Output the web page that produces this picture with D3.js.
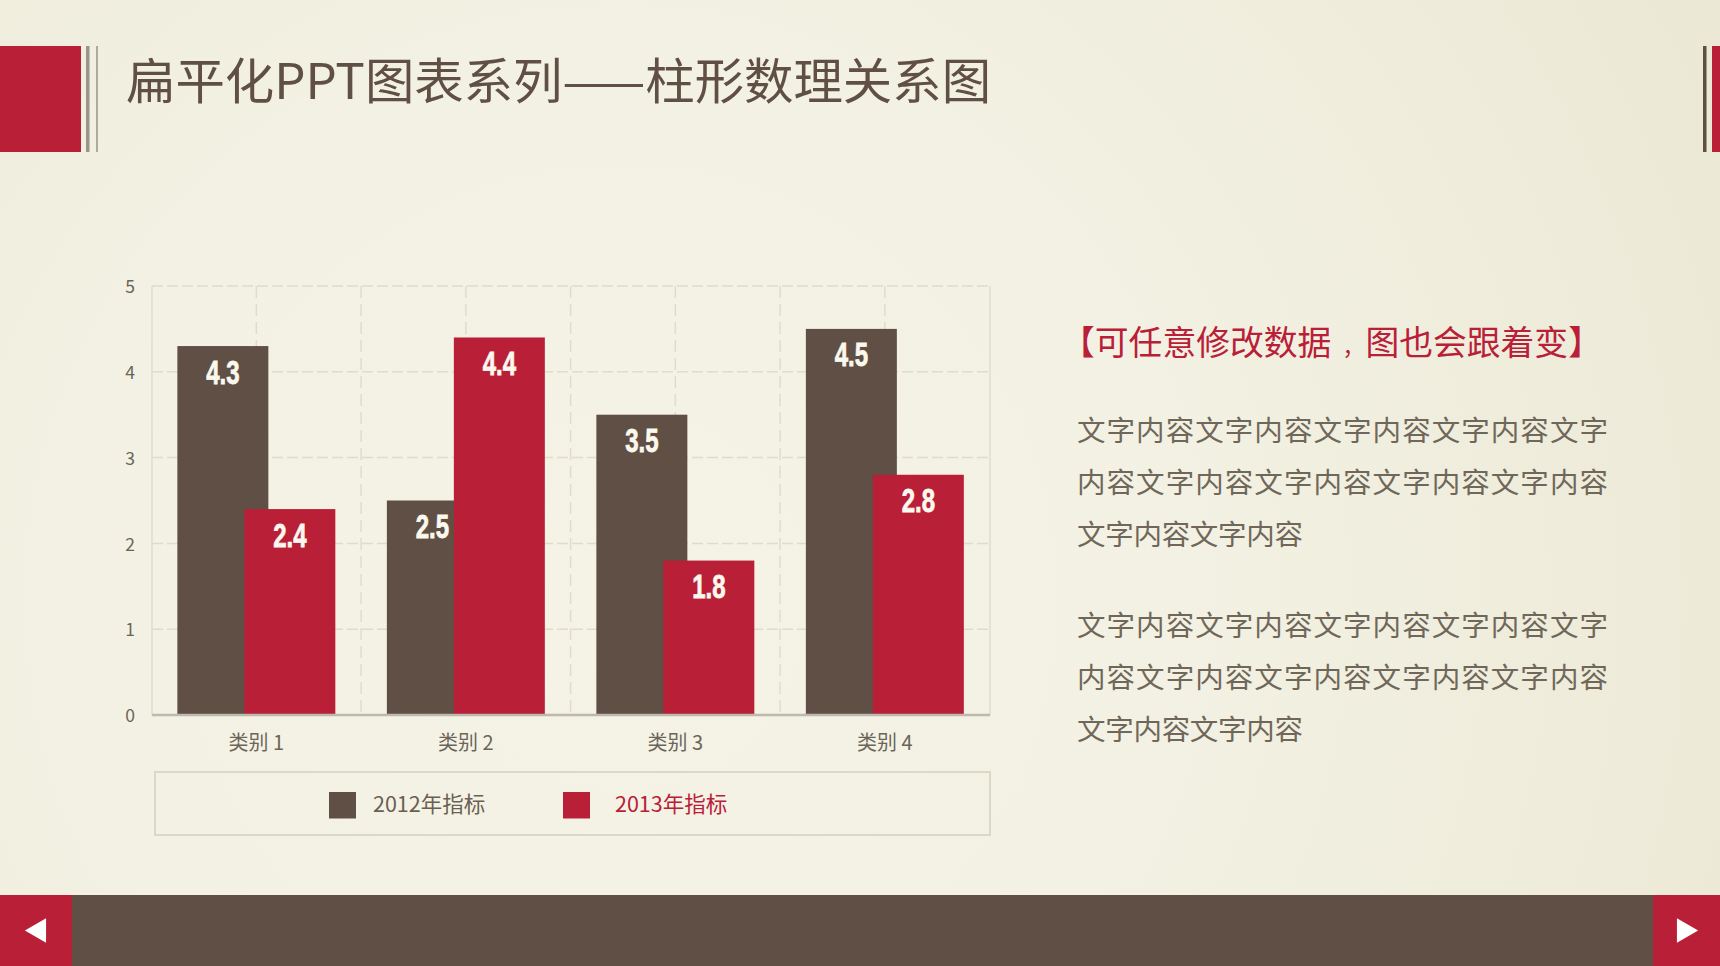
<!DOCTYPE html>
<html><head><meta charset="utf-8">
<script src="https://cdn.jsdelivr.net/npm/d3@7"></script>
<style>
html,body{margin:0;padding:0;background:#f1efe0;overflow:hidden}
svg{display:block}
text{font-family:"Noto Sans CJK SC","Noto Sans",sans-serif}
</style></head><body><svg id="c" width="1720" height="966"></svg>
<script>
const categories = ["类别 1","类别 2","类别 3","类别 4"];
const seriesNames = ["2012年指标","2013年指标"];
const values2012 = [4.3,2.5,3.5,4.5];
const values2013 = [2.4,4.4,1.8,2.8];
const yTicks = [0,1,2,3,4,5];
const titleText = "扁平化PPT图表系列——柱形数理关系图";
const subtitleA = "【可任意修改数据";
const subtitleComma = "，";
const subtitleB = "图也会跟着变】";
const bodyLines = ["文字内容文字内容文字内容文字内容文字","内容文字内容文字内容文字内容文字内容","文字内容文字内容"];
const BROWN="#604f44", RED="#b92038", GRID="#dfdccc";

const svg=d3.select("#c");
const defs=svg.append("defs");
const bg=defs.append("radialGradient").attr("id","bg").attr("gradientUnits","userSpaceOnUse")
  .attr("cx",620).attr("cy",600).attr("r",1250);
bg.append("stop").attr("offset",0).attr("stop-color","#f5f3e6");
bg.append("stop").attr("offset",0.45).attr("stop-color","#f3f1e3");
bg.append("stop").attr("offset",1).attr("stop-color","#ebe8d5");
svg.append("rect").attr("width",1720).attr("height",966).attr("fill","url(#bg)");

const rect=(x,y,w,h,f)=>svg.append("rect").attr("x",x).attr("y",y).attr("width",w).attr("height",h).attr("fill",f);
rect(0,46,81,106,RED);
rect(86,46,3.5,106,"#9a958a");
rect(96,46,2,106,"#aeaa9c");
rect(1703,46,3.5,106,BROWN);
rect(1712,46,8,106,RED);
svg.append("text").attr("x",126).attr("y",98.5).attr("font-size",49.4).attr("fill",BROWN).text(titleText);

const x=d3.scaleBand().domain(categories).range([151.6,989.6]).paddingInner(0.246).paddingOuter(0.123);
const y=d3.scaleLinear().domain([0,5]).range([715,286]);
const barW=x.bandwidth()*0.576;
const grid=svg.append("g").attr("fill","none").attr("stroke",GRID).attr("stroke-width",1.5);
grid.selectAll("line.h").data(yTicks.slice(1)).join("line").attr("class","h")
  .attr("x1",152).attr("x2",990).attr("y1",d=>y(d)).attr("y2",d=>y(d)).attr("stroke-dasharray","11 4");
const vs=[];categories.forEach(c=>{vs.push(x(c)+x.bandwidth()/2);vs.push(x(c)+x.bandwidth()/2+x.step()/2);});
grid.selectAll("line.v").data(vs.slice(0,-1)).join("line").attr("class","v")
  .attr("x1",d=>d).attr("x2",d=>d).attr("y1",y(5)).attr("y2",y(0)).attr("stroke-dasharray","12 6");
grid.append("line").attr("x1",152).attr("x2",152).attr("y1",y(5)).attr("y2",y(0));
grid.append("line").attr("x1",990).attr("x2",990).attr("y1",y(5)).attr("y2",y(0));

const yAxis=d3.axisLeft(y).tickValues(yTicks).tickFormat(d3.format("d")).tickSize(0).tickPadding(17);
const gy=svg.append("g").attr("transform","translate(152,1)").call(yAxis);
gy.select(".domain").remove();
gy.selectAll("text").attr("font-size",17.5).attr("fill","#6b6559");

const series=[{v:values2012,c:BROWN,off:0},{v:values2013,c:RED,off:x.bandwidth()-barW}];
series.forEach(s=>{
  svg.append("g").selectAll("rect").data(categories).join("rect")
    .attr("x",d=>x(d)+s.off).attr("width",barW)
    .attr("y",(d,i)=>y(s.v[i])).attr("height",(d,i)=>y(0)-y(s.v[i])).attr("fill",s.c);
});
series.forEach(s=>{
  svg.append("g").selectAll("text").data(categories).join("text")
    .attr("transform",(d,i)=>`translate(${x(d)+s.off+barW/2},${y(s.v[i])+37.5}) scale(0.8,1.1)`)
    .attr("text-anchor","middle").attr("fill","#fbf8ee").attr("stroke","#fbf8ee").attr("stroke-width",0.7)
    .attr("font-size",30).attr("font-weight",700)
    .style("font-family",'"Liberation Sans",sans-serif')
    .text((d,i)=>s.v[i].toFixed(1));
});
const xAxis=d3.axisBottom(x).tickSize(0).tickPadding(21.5);
const gx=svg.append("g").attr("transform","translate(0,714.5)").call(xAxis);
gx.select(".domain").attr("stroke","#bdb9ae").attr("stroke-width",2.5);
gx.selectAll("text").attr("font-size",20).attr("fill","#6b6559");

svg.append("rect").attr("x",155).attr("y",772).attr("width",835).attr("height",63).attr("fill","none").attr("stroke","#dcd8c6").attr("stroke-width",2);
const legendX=[329,563];
seriesNames.forEach((n,i)=>{
  const c=i?RED:BROWN;
  rect(legendX[i],792,27,26.5,c);
  svg.append("text").attr("x",legendX[i]+(i?52:44)).attr("y",812).attr("font-size",21.5).attr("fill",i?RED:"#6b5f52").text(n);
});

const sub=svg.append("text").attr("x",1061).attr("y",354.5).attr("font-size",33.8).attr("fill",RED);
sub.append("tspan").text(subtitleA);
sub.append("tspan").attr("dx",11).attr("font-size",22).text(subtitleComma);
sub.append("tspan").attr("dx",1).text(subtitleB);
const lineWidth=[531,531,226];
[441,636].forEach(y0=>{
  bodyLines.forEach((t,i)=>{
    svg.append("text").attr("x",1077).attr("y",y0+i*51.8).attr("font-size",28.5).attr("fill","#6f6759")
      .attr("textLength",lineWidth[i]).attr("lengthAdjust","spacing").text(t);
  });
});

rect(0,895,1720,71,BROWN);
rect(0,895,72,71,RED);
rect(1653,895,67,71,RED);
const tri=d3.symbol().type(d3.symbolTriangle).size(260);
svg.append("path").attr("d",tri()).attr("fill","#fff").attr("transform","translate(39,930.5) rotate(-90)");
svg.append("path").attr("d",tri()).attr("fill","#fff").attr("transform","translate(1684,930.5) rotate(90)");
</script></body></html>
